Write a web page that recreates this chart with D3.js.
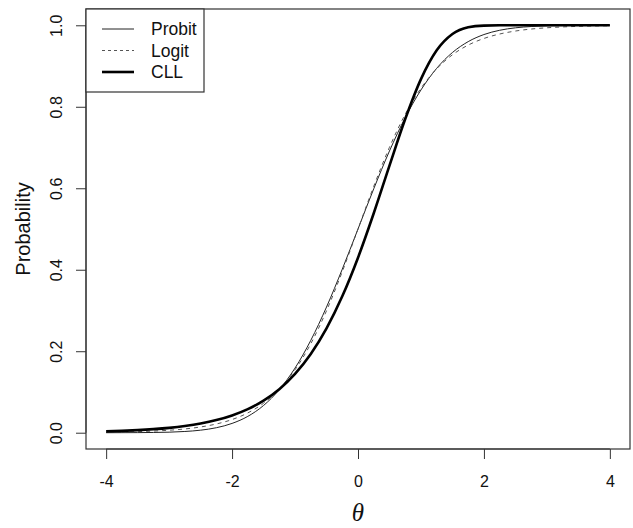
<!DOCTYPE html>
<html>
<head>
<meta charset="utf-8">
<script src="https://cdn.jsdelivr.net/npm/d3@7"></script>
<style>
  body { margin: 0; background: #fff; }
  svg { display: block; }
  .tick text { font-family: "Liberation Sans", Arial, sans-serif; }
</style>
</head>
<body>
<div id="chart"></div>
<script>
// values, theta from -4 to 4 in steps of 0.25
const theta = [-4, -3.75, -3.5, -3.25, -3, -2.75, -2.5, -2.25, -2, -1.75, -1.5, -1.25, -1, -0.75, -0.5, -0.25,
  0, 0.25, 0.5, 0.75, 1, 1.25, 1.5, 1.75, 2, 2.25, 2.5, 2.75, 3, 3.25, 3.5, 3.75, 4];

const probit = [0.0000, 0.0001, 0.0002, 0.0006, 0.0013, 0.0030, 0.0062, 0.0122, 0.0228, 0.0401, 0.0668, 0.1057,
  0.1587, 0.2266, 0.3085, 0.4013, 0.5000, 0.5987, 0.6915, 0.7734, 0.8413, 0.8944, 0.9332, 0.9599, 0.9773,
  0.9878, 0.9938, 0.9970, 0.9987, 0.9994, 0.9998, 0.9999, 1.0000];

const logit = [0.0011, 0.0017, 0.0026, 0.0040, 0.0061, 0.0092, 0.0141, 0.0214, 0.0323, 0.0486, 0.0724, 0.1067,
  0.1545, 0.2184, 0.2994, 0.3953, 0.5000, 0.6047, 0.7006, 0.7816, 0.8455, 0.8933, 0.9276, 0.9514, 0.9677,
  0.9786, 0.9859, 0.9908, 0.9939, 0.9960, 0.9974, 0.9983, 0.9989];

const cll = [0.0033, 0.0046, 0.0063, 0.0087, 0.0119, 0.0164, 0.0225, 0.0309, 0.0423, 0.0578, 0.0787, 0.1068,
  0.1442, 0.1931, 0.2560, 0.3347, 0.4296, 0.5387, 0.6557, 0.7699, 0.8679, 0.9386, 0.9786, 0.9950, 0.9993,
  1.0000, 1.0000, 1.0000, 1.0000, 1.0000, 1.0000, 1.0000, 1.0000];

const xTicks = [-4, -2, 0, 2, 4];
const yTicks = [0, 0.2, 0.4, 0.6, 0.8, 1.0];

const series = [
  { name: "Probit", values: probit, color: "#222", width: 1, dash: null },
  { name: "Logit", values: logit, color: "#555", width: 1, dash: "4,4" },
  { name: "CLL", values: cll, color: "#000", width: 2.6, dash: null }
];

const width = 633, height = 528;
const frame = { left: 86, right: 630, top: 9, bottom: 449 };

const svg = d3.select("#chart").append("svg")
  .attr("width", width)
  .attr("height", height);

// R style: data range padded by 4% on each side
const x = d3.scaleLinear().domain([-4.32, 4.32]).range([frame.left, frame.right]);
const y = d3.scaleLinear().domain([-0.04, 1.04]).range([frame.bottom, frame.top]);

// plot frame
svg.append("rect")
  .attr("x", frame.left)
  .attr("y", frame.top)
  .attr("width", frame.right - frame.left)
  .attr("height", frame.bottom - frame.top)
  .attr("fill", "none")
  .attr("stroke", "#333")
  .attr("stroke-width", 1.2);

// axes
const xAxis = svg.append("g")
  .attr("transform", `translate(0,${frame.bottom})`)
  .call(d3.axisBottom(x).tickValues(xTicks).tickSize(10).tickFormat(d => String(d)));
xAxis.select(".domain").attr("d", `M${x(-4)},0H${x(4)}`).attr("stroke", "#333");
xAxis.selectAll(".tick line").attr("stroke", "#333");
xAxis.selectAll(".tick text")
  .attr("font-size", 16)
  .attr("fill", "#111")
  .attr("dy", null)
  .attr("y", 38);

const yAxis = svg.append("g")
  .attr("transform", `translate(${frame.left},0)`)
  .call(d3.axisLeft(y).tickValues(yTicks).tickSize(10).tickFormat(d3.format(".1f")));
yAxis.select(".domain").attr("d", `M0,${y(0)}V${y(1)}`).attr("stroke", "#333");
yAxis.selectAll(".tick line").attr("stroke", "#333");
yAxis.selectAll(".tick text")
  .attr("font-size", 16)
  .attr("fill", "#111")
  .attr("x", null).attr("dy", null)
  .attr("text-anchor", "middle")
  .attr("transform", "translate(-24,0) rotate(-90)")
  .attr("y", 0);

// axis titles
svg.append("text")
  .attr("transform", `translate(30,${(frame.top + frame.bottom) / 2}) rotate(-90)`)
  .attr("text-anchor", "middle")
  .attr("font-family", "Liberation Sans, Arial, sans-serif")
  .attr("font-size", 20)
  .attr("fill", "#111")
  .text("Probability");

svg.append("text")
  .attr("x", x(0))
  .attr("y", 521)
  .attr("text-anchor", "middle")
  .attr("font-family", "Liberation Serif, Times New Roman, serif")
  .attr("font-style", "italic")
  .attr("font-size", 25)
  .attr("fill", "#111")
  .text("θ");

// curves
const line = d3.line()
  .x((d, i) => x(theta[i]))
  .y(d => y(d))
  .curve(d3.curveMonotoneX);

svg.append("g").selectAll("path")
  .data(series)
  .join("path")
  .attr("d", d => line(d.values))
  .attr("fill", "none")
  .attr("stroke", d => d.color)
  .attr("stroke-width", d => d.width)
  .attr("stroke-dasharray", d => d.dash);

// legend
const legend = svg.append("g");
legend.append("rect")
  .attr("x", frame.left)
  .attr("y", frame.top)
  .attr("width", 118)
  .attr("height", 83)
  .attr("fill", "#fff")
  .attr("stroke", "#333")
  .attr("stroke-width", 1.2);

const rows = legend.selectAll("g.row")
  .data(series)
  .join("g")
  .attr("class", "row")
  .attr("transform", (d, i) => `translate(0,${29 + i * 21.5})`);

rows.append("line")
  .attr("x1", 102).attr("x2", 134)
  .attr("stroke", d => d.color)
  .attr("stroke-width", d => d.width)
  .attr("stroke-dasharray", d => d.dash ? "3,3" : null);

rows.append("text")
  .attr("x", 151)
  .attr("dy", "0.35em")
  .attr("font-family", "Liberation Sans, Arial, sans-serif")
  .attr("font-size", 17.5)
  .attr("fill", "#111")
  .text(d => d.name);
</script>
</body>
</html>
